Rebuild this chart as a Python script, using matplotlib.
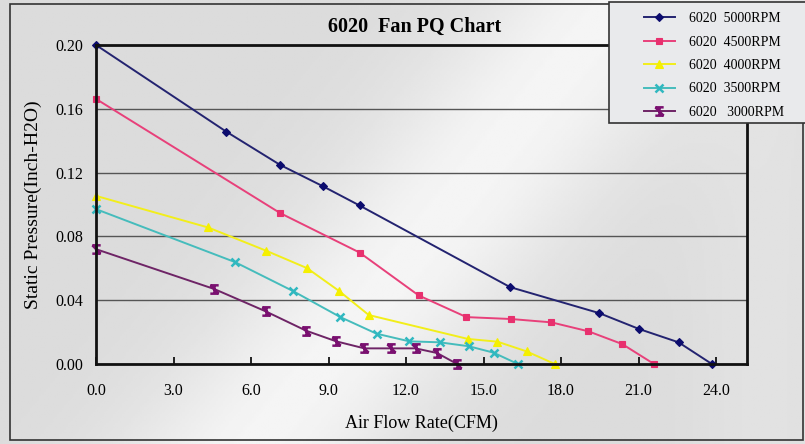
import numpy as np
import matplotlib
matplotlib.use("Agg")
import matplotlib.pyplot as plt
from matplotlib.path import Path
from matplotlib.patches import Rectangle

plt.rcParams['font.family'] = ['Liberation Serif', 'DejaVu Serif']

# ---- data ----
x_5000 = [0.0, 5.04, 7.13, 8.80, 10.20, 16.03, 19.48, 21.03, 22.55, 23.84]
y_5000 = [0.200, 0.1457, 0.1248, 0.1113, 0.0994, 0.0482, 0.0319, 0.0219, 0.0136, 0.0]

x_4500 = [0.0, 7.13, 10.20, 12.49, 14.34, 16.07, 17.63, 19.06, 20.37, 21.60]
y_4500 = [0.1662, 0.0946, 0.0699, 0.0430, 0.0294, 0.0282, 0.0261, 0.0205, 0.0125, 0.0]

x_4000 = [0.0, 4.34, 6.59, 8.17, 9.40, 10.56, 14.40, 15.54, 16.67, 17.76]
y_4000 = [0.1054, 0.0856, 0.0710, 0.0601, 0.0459, 0.0307, 0.0157, 0.0140, 0.0079, 0.0]

x_3500 = [0.0, 5.38, 7.63, 9.46, 10.86, 12.13, 13.30, 14.44, 15.39, 16.33]
y_3500 = [0.0971, 0.0639, 0.0457, 0.0294, 0.0190, 0.0142, 0.0136, 0.0111, 0.0071, 0.0]

x_3000 = [0.0, 4.58, 6.57, 8.13, 9.30, 10.39, 11.41, 12.37, 13.20, 13.98]
y_3000 = [0.0720, 0.0470, 0.0330, 0.0209, 0.0142, 0.0098, 0.0098, 0.0098, 0.0069, 0.0]

labels = ["6020  5000RPM", "6020  4500RPM", "6020  4000RPM", "6020  3500RPM", "6020   3000RPM"]
x_ticks = [0.0, 3.0, 6.0, 9.0, 12.0, 15.0, 18.0, 21.0, 24.0]
y_ticks = [0.00, 0.04, 0.08, 0.12, 0.16, 0.20]

# custom "star" marker (X with bars)
star_path = Path([(-1, 1), (1, 1), (-1, -1), (1, -1), (-1, 1), (1, -1), (0, 1), (0, -1)],
                 [Path.MOVETO, Path.LINETO, Path.MOVETO, Path.LINETO,
                  Path.MOVETO, Path.LINETO, Path.MOVETO, Path.LINETO])

W, H = 805, 444
fig = plt.figure(figsize=(W / 100, H / 100), dpi=100)
fig.patch.set_facecolor('#dfe1e4')

# background gradient (decorative)
bg = fig.add_axes([0, 0, 1, 1], zorder=-10)
yy, xx = np.mgrid[0:1:200j, 0:1:360j]
band = np.exp(-((xx * 1.0 - (1 - yy) * 0.45 - 0.32) ** 2) / 0.03)
band2 = np.exp(-((xx - 0.95) ** 2) / 0.01) * 0.5
val = 0.86 + 0.10 * band + 0.05 * band2
bg.imshow(val, cmap='gray', vmin=0, vmax=1, aspect='auto', extent=[0, 1, 0, 1])
bg.set_axis_off()

ax = fig.add_axes([96 / W, 1 - 364 / H, (747 - 96) / W, (364 - 45) / H])
ax.patch.set_alpha(0.0)

series = [
    (x_5000, y_5000, '#232370', 'D', '#0c0c6e', 4.5),
    (x_4500, y_4500, '#e8407a', 's', '#e8306e', 5),
    (x_4000, y_4000, '#f2ee1a', '^', '#f5f000', 6),
    (x_3500, y_3500, '#45bcbc', 'x', '#30b8c0', 6),
    (x_3000, y_3000, '#6e2466', star_path, '#7a1070', 6),
]
handles = []
for (xs, ys, lc, mk, mc, ms), lab in zip(series, labels):
    h, = ax.plot(xs, ys, color=lc, lw=1.4, marker=mk, markersize=ms,
                 markerfacecolor=mc, markeredgecolor=mc,
                 markeredgewidth=1.8 if (mk == 'x' or mk is star_path) else 0.8,
                 label=lab, zorder=3, clip_on=False)
    handles.append(h)

ax.set_xlim(0, 25.2)
ax.set_ylim(0, 0.20)
ax.set_xticks(x_ticks)
ax.set_xticklabels([f"{v:.1f}" for v in x_ticks])
ax.set_yticks(y_ticks)
ax.set_yticklabels([f"{v:.2f}" for v in y_ticks])
ax.tick_params(axis='x', direction='in', length=5, width=1.2, pad=14, labelsize=11.5)
ax.tick_params(axis='y', length=0, pad=9, labelsize=11.5)
ax.grid(axis='y', color='#555555', lw=1.0, zorder=1)
for s in ax.spines.values():
    s.set_linewidth(2.0)
    s.set_color('#111111')
    s.set_zorder(4)

ax.set_xlabel("Air Flow Rate(CFM)", fontsize=13, labelpad=11)
ax.set_ylabel("Static Pressure(Inch-H2O)", fontsize=14, labelpad=10)
fig.text(415 / W, 1 - 27 / H, "6020  Fan PQ Chart", ha='center', va='center',
         fontsize=14.5, fontweight='bold')

# outer frame
fig.add_artist(Rectangle((10 / W, 4 / H), (803 - 10) / W, (440 - 4) / H,
                         transform=fig.transFigure, fill=False, ec='#333333', lw=1.2, zorder=5))

# legend box
fig.add_artist(Rectangle((609 / W, 1 - 123 / H), (812 - 609) / W, (123 - 2) / H,
                         transform=fig.transFigure, fc='#e9eaec', ec='#333333', lw=1.2, zorder=9))
leg = fig.legend(handles=handles, loc='upper left', bbox_to_anchor=(640 / W, 1 - 8 / H),
                 frameon=False, fontsize=10, handlelength=2.2, labelspacing=0.75,
                 borderpad=0.3, handletextpad=1.0, borderaxespad=0)
leg.set_zorder(10)

fig.savefig("out.png", dpi=100)
